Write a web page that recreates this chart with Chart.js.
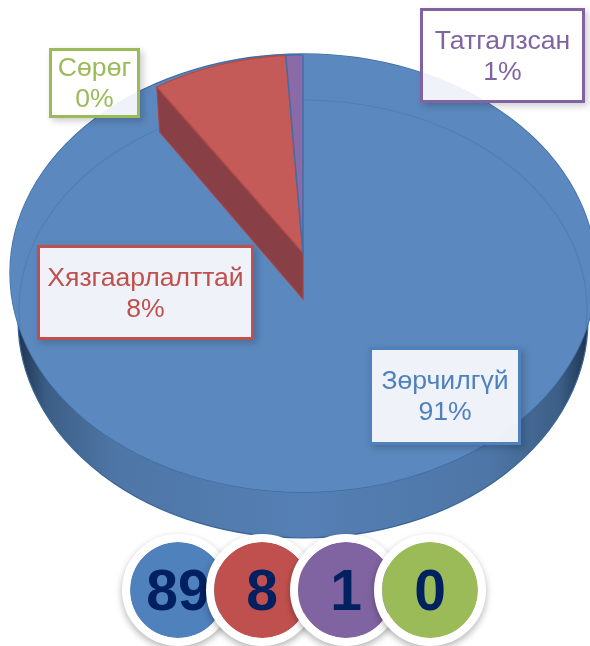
<!DOCTYPE html>
<html lang="mn">
<head>
<meta charset="utf-8">
<script src="https://cdn.jsdelivr.net/npm/chart.js@4"></script>
<style>
html,body{margin:0;padding:0;background:#fff;width:590px;height:646px;overflow:hidden;font-family:"Liberation Sans",Arial,sans-serif}
#wrap{position:relative;width:590px;height:646px;overflow:hidden}
canvas{position:absolute;left:0;top:0}
.box{position:absolute;box-sizing:border-box;background:rgba(255,255,255,.9);border-style:solid;border-width:3px;display:flex;flex-direction:column;justify-content:center;text-align:center;font-size:26.6px;line-height:31px;white-space:nowrap;box-shadow:3px 3px 7px rgba(0,0,0,.2)}
.badge{position:absolute;box-sizing:border-box;width:112px;height:112px;top:534px;border:8px solid #fff;border-radius:50%;display:flex;align-items:center;justify-content:center;color:#002060;font-weight:bold;font-size:57px;box-shadow:0 3px 7px rgba(0,0,0,.3)}
</style>
</head>
<body>
<div id="wrap"><canvas id="c" width="590" height="646"></canvas></div>
<script>
const categories = ['Зөрчилгүй', 'Хязгаарлалттай', 'Татгалзсан', 'Сөрөг'];
const counts = [89, 8, 1, 0];
const percents = [91, 8, 1, 0];
const colors = ['#5B88BE', '#D75447', '#8A6BA8', '#9BBB59'];
const labelColors = ['#4F81BD', '#C0504D', '#8064A2', '#9BBB59'];
const badgeColors = ['#4F81BD', '#C0504D', '#8064A2', '#9BBB59'];

// layout of the label boxes and badges
const boxes = [[369,347,152,98],[37,245,217,95],[420,8,165,95],[49,48,91,70]];
const badgeLeft = [122,206,290,374];

const CX = 303;
const TOP = {cy:273, rx:293, ry:219};    // top surface of the disc
const WEDGE = {cy:253, rx:268, ry:198};  // raised slices
const SIDE = {cy:320, rx:285, ry:218};   // lower rim of the disc
const RING = {cy:310, rx:284, ry:210};   // bevel line

function place(ctx, a, g){
  ctx.translate(CX, g.cy);
  ctx.scale(g.rx / a.outerRadius, g.ry / a.outerRadius);
  ctx.translate(-a.x, -a.y);
}

const disc3d = {
  id: 'disc3d',
  beforeDatasetsDraw(chart){
    const ctx = chart.ctx, arcs = chart.getDatasetMeta(0).data, a0 = arcs[0], R = a0.outerRadius;
    // side wall
    const grad = ctx.createLinearGradient(CX - SIDE.rx, 0, CX + SIDE.rx, 0);
    grad.addColorStop(0, '#1D3450'); grad.addColorStop(.05, '#3C5E86'); grad.addColorStop(.17, '#4E76A6');
    grad.addColorStop(.5, '#5580B5'); grad.addColorStop(.83, '#4E76A6'); grad.addColorStop(.95, '#3C5E86'); grad.addColorStop(1, '#1D3450');
    ctx.save(); place(ctx, a0, SIDE);
    ctx.beginPath(); ctx.arc(a0.x, a0.y, R, 0, Math.PI * 2); ctx.restore();
    ctx.fillStyle = grad; ctx.fill();
    ctx.strokeStyle = '#3A6597'; ctx.lineWidth = 1.2; ctx.stroke();
    // top surface
    ctx.save(); place(ctx, a0, TOP);
    ctx.beginPath(); ctx.arc(a0.x, a0.y, R, 0, Math.PI * 2); ctx.restore();
    ctx.fillStyle = colors[0]; ctx.fill();
    ctx.strokeStyle = '#3F6EA5'; ctx.lineWidth = 1.3; ctx.stroke();
    // blue slice
    ctx.save(); place(ctx, a0, TOP); a0.draw(ctx); ctx.restore();
    // bevel line
    ctx.save(); place(ctx, a0, RING);
    ctx.beginPath(); ctx.arc(a0.x, a0.y, R, Math.PI - 0.1, Math.PI * 2 + 0.1); ctx.restore();
    ctx.strokeStyle = 'rgba(70,120,180,.55)'; ctx.lineWidth = 1.2; ctx.stroke();
    // wall of the raised wedge
    const red = arcs[1];
    const px = CX + WEDGE.rx * Math.cos(red.startAngle), py = WEDGE.cy + WEDGE.ry * Math.sin(red.startAngle);
    ctx.beginPath();
    ctx.moveTo(px, py); ctx.lineTo(px + 3, py + 45);
    ctx.lineTo(CX, WEDGE.cy + 46); ctx.lineTo(CX, WEDGE.cy); ctx.closePath();
    ctx.fillStyle = 'rgba(140,58,60,.93)'; ctx.fill();
    ctx.strokeStyle = '#A84442'; ctx.lineWidth = 1.2; ctx.stroke();
    // raised slices
    [1, 2, 3].forEach(i => { ctx.save(); place(ctx, arcs[i], WEDGE); arcs[i].draw(ctx); ctx.restore(); });
    return false;
  }
};

new Chart(document.getElementById('c'), {
  type: 'pie',
  data: {
    labels: categories,
    datasets: [{
      data: counts,
      backgroundColor: ['#5B88BE', 'rgba(215,84,71,.85)', '#8A6BA8', '#9BBB59'],
      borderColor: ['#5B88BE', '#B04A47', '#3F6EA5', '#9BBB59'],
      borderWidth: [0, 1.6, 1.5, 0],
      clip: false
    }]
  },
  options: {
    responsive: false,
    animation: false,
    layout: {padding: {left: 16}},
    plugins: {legend: {display: false}, tooltip: {enabled: false}}
  },
  plugins: [disc3d]
});

const wrap = document.getElementById('wrap');
categories.forEach((name, i) => {
  const b = boxes[i], d = document.createElement('div');
  d.className = 'box';
  d.style.cssText = `left:${b[0]}px;top:${b[1]}px;width:${b[2]}px;height:${b[3]}px;border-color:${labelColors[i]};color:${labelColors[i]}`;
  d.innerHTML = `<span>${name}</span><span>${percents[i]}%</span>`;
  wrap.appendChild(d);
});
counts.forEach((v, i) => {
  const d = document.createElement('div');
  d.className = 'badge';
  d.style.left = badgeLeft[i] + 'px';
  d.style.background = badgeColors[i];
  d.style.backgroundClip = 'padding-box';
  d.textContent = v;
  wrap.appendChild(d);
});
</script>
</body>
</html>
